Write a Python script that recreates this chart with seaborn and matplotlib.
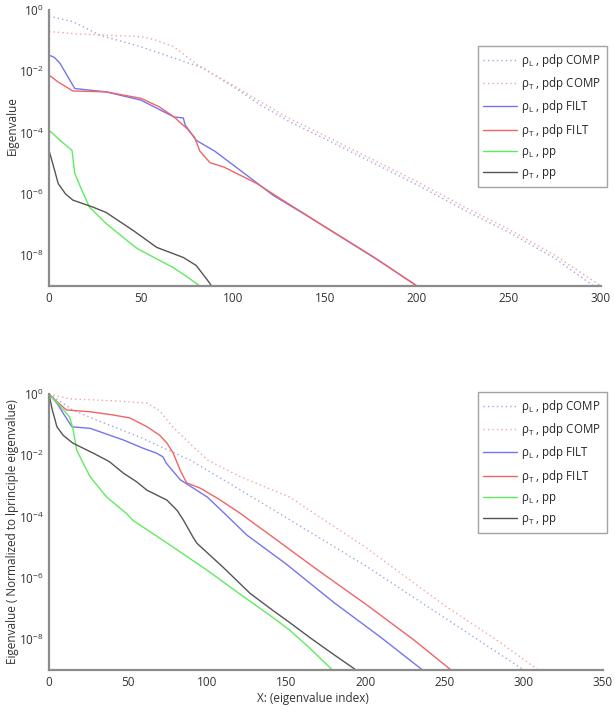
"""Eigenvalue spectra: raw (top) and normalised to the principal eigenvalue (bottom)."""

import numpy as np
import pandas as pd
import matplotlib
matplotlib.use('Agg')
import matplotlib.pyplot as plt
import seaborn as sns

# ── DATA (x = eigenvalue index, e = log10 eigenvalue) ──

LABELS = [
    r'ρ$_\mathrm{L}$ , pdp COMP',
    r'ρ$_\mathrm{T}$ , pdp COMP',
    r'ρ$_\mathrm{L}$ , pdp FILT',
    r'ρ$_\mathrm{T}$ , pdp FILT',
    r'ρ$_\mathrm{L}$ , pp',
    r'ρ$_\mathrm{T}$ , pp',
]

# top panel
top_L_comp_x = [0, 13, 28, 50, 71, 84, 100, 115, 131, 150, 175, 200, 225, 250, 275, 296]
top_L_comp_e = [-0.2, -0.38, -0.83, -1.2, -1.63, -1.9, -2.5, -3.1, -3.65, -4.2, -4.95, -5.7,
                -6.5, -7.25, -8.1, -9.0]
top_T_comp_x = [0, 15, 31, 50, 58, 68, 76, 84, 100, 115, 131, 150, 175, 200, 225, 250, 275, 300]
top_T_comp_e = [-0.7, -0.78, -0.82, -0.87, -0.98, -1.2, -1.58, -1.92, -2.45, -3.0, -3.55, -4.1,
                -4.85, -5.6, -6.4, -7.15, -8.0, -9.0]
top_L_filt_x = [0, 3, 6, 10, 14, 20, 31, 50, 68, 73, 74, 76, 80, 90, 104, 122, 140, 160, 180, 200]
top_L_filt_e = [-1.47, -1.55, -1.74, -2.15, -2.56, -2.6, -2.67, -2.94, -3.49, -3.52, -3.75,
                -3.92, -4.25, -4.6, -5.23, -6.05, -6.7, -7.45, -8.2, -9.0]
top_T_filt_x = [0, 5, 13, 31, 50, 60, 68, 75, 79, 82, 87.5, 95, 113, 127, 150, 175, 200]
top_T_filt_e = [-2.12, -2.35, -2.64, -2.67, -2.88, -3.16, -3.49, -3.87, -4.14, -4.6, -4.98,
                -5.12, -5.66, -6.2, -7.07, -8.0, -9.0]
top_L_pp_x = [0, 6, 12.5, 14, 18, 22, 31, 40, 48, 58, 67.6, 75, 82]
top_L_pp_e = [-3.92, -4.25, -4.58, -5.33, -5.9, -6.43, -6.96, -7.4, -7.78, -8.1, -8.4, -8.7, -9.0]
top_T_pp_x = [0, 2, 5, 9, 13, 24, 31, 46, 58.5, 73, 80, 86, 89]
top_T_pp_e = [-4.58, -5.0, -5.66, -6.0, -6.2, -6.43, -6.6, -7.2, -7.74, -8.07, -8.33, -8.8, -9.05]

# bottom panel (normalised)
bot_L_comp_x = [0, 15, 30, 57, 89, 120, 152, 200, 250, 300]
bot_L_comp_e = [0.0, -0.52, -0.85, -1.4, -2.15, -3.1, -4.1, -5.6, -7.3, -9.0]
bot_T_comp_x = [0, 13, 40, 62, 70, 78, 100, 121, 152, 200, 250, 285, 309]
bot_T_comp_e = [0.0, -0.16, -0.22, -0.3, -0.55, -1.07, -2.15, -2.7, -3.36, -5.0, -6.9, -8.1, -9.0]
bot_L_filt_x = [0, 5, 9, 14.5, 26, 47, 60, 68, 72, 74, 83, 100, 112, 125, 150, 180, 210, 236]
bot_L_filt_e = [0.0, -0.3, -0.63, -1.07, -1.12, -1.5, -1.78, -1.93, -2.05, -2.25, -2.8, -3.36,
                -3.95, -4.6, -5.55, -6.8, -7.95, -9.0]
bot_T_filt_x = [0, 5, 11, 26, 40, 51, 62, 70, 74.5, 78.5, 83, 87, 95.5, 108, 121, 141.5, 170,
                200, 230, 254]
bot_T_filt_e = [0.0, -0.25, -0.52, -0.58, -0.68, -0.78, -1.07, -1.35, -1.6, -1.93, -2.5, -2.9,
                -3.07, -3.45, -3.9, -4.67, -5.75, -6.85, -8.0, -9.0]
bot_L_pp_x = [0, 8, 13, 15, 17.5, 22, 26, 36.4, 49, 53, 72, 100, 120, 141.5, 152, 165, 179]
bot_L_pp_e = [0.0, -0.45, -0.75, -1.1, -1.83, -2.3, -2.7, -3.36, -3.9, -4.12, -4.77, -5.75,
              -6.5, -7.29, -7.7, -8.3, -9.0]
bot_T_pp_x = [0, 2, 5, 9, 15, 28, 38, 47, 55, 62, 74.5, 81, 85, 91, 93.5, 110, 127, 141.5, 152,
              165, 180, 194]
bot_T_pp_e = [0.0, -0.5, -1.07, -1.35, -1.6, -1.93, -2.2, -2.58, -2.85, -3.14, -3.46, -3.8,
              -4.12, -4.67, -4.87, -5.65, -6.5, -7.06, -7.45, -7.95, -8.5, -9.0]

COLORS = ['#a4a4e6', '#f0a4a4', '#7474f0', '#f06464', '#5fec5f', '#555555']
DOTTED = [True, True, False, False, False, False]

GRAY = '#8c8c8c'


# ── HELPERS ───────────────────────────────────────────────────────────────────

def draw_panel(ax, series, xmax):
    """Draw the six spectra on a log axis and style it like the original."""
    for (xs, es), label, color, dotted in zip(series, LABELS, COLORS, DOTTED):
        df = pd.DataFrame({'x': xs, 'y': 10.0 ** np.asarray(es)})
        sns.lineplot(data=df, x='x', y='y', ax=ax, color=color, lw=1.0,
                     linestyle=(0, (1, 2.2)) if dotted else '-',
                     label=label, sort=False, estimator=None)
    ax.set_yscale('log')
    ax.set_xlim(0, xmax)
    ax.set_ylim(1e-9, 1)
    ax.set_xticks(np.arange(0, xmax + 1, 50))
    ax.set_yticks([1, 1e-2, 1e-4, 1e-6, 1e-8])
    ax.yaxis.set_minor_locator(matplotlib.ticker.NullLocator())
    ax.set_xlabel('')
    for side in ['top', 'right']:
        ax.spines[side].set_visible(False)
    for side in ['left', 'bottom']:
        ax.spines[side].set_color(GRAY)
        ax.spines[side].set_linewidth(1.6)
    ax.tick_params(direction='in', length=4, width=1, color=GRAY,
                   labelsize=8.5, labelcolor='#333333', pad=4)


def add_legend(ax, fig, top_px):
    leg = ax.legend(loc='upper right', bbox_to_anchor=(607 / 615, 1 - top_px / 711),
                    bbox_transform=fig.transFigure, fontsize=8.3, frameon=True,
                    fancybox=False, edgecolor=GRAY, handlelength=2.9,
                    labelspacing=0.55, borderpad=0.5, handletextpad=0.4,
                    borderaxespad=0)
    leg.get_frame().set_linewidth(1.0)


# ── MAIN ──────────────────────────────────────────────────────────────────────

def main():
    sns.set_theme(style='white')
    plt.rcParams['font.family'] = ['Open Sans', 'DejaVu Sans']
    plt.rcParams['mathtext.fontset'] = 'custom'
    plt.rcParams['mathtext.rm'] = 'Open Sans'
    plt.rcParams['mathtext.it'] = 'Open Sans:italic'
    plt.rcParams['axes.unicode_minus'] = False

    fig = plt.figure(figsize=(6.15, 7.11), dpi=100)
    ax_top = fig.add_axes([49 / 615, 1 - 286 / 711, 552 / 615, 276 / 711])
    ax_bot = fig.add_axes([49 / 615, 1 - 670 / 711, 554 / 615, 276 / 711])

    top_series = [
        (top_L_comp_x, top_L_comp_e), (top_T_comp_x, top_T_comp_e),
        (top_L_filt_x, top_L_filt_e), (top_T_filt_x, top_T_filt_e),
        (top_L_pp_x, top_L_pp_e), (top_T_pp_x, top_T_pp_e),
    ]
    bot_series = [
        (bot_L_comp_x, bot_L_comp_e), (bot_T_comp_x, bot_T_comp_e),
        (bot_L_filt_x, bot_L_filt_e), (bot_T_filt_x, bot_T_filt_e),
        (bot_L_pp_x, bot_L_pp_e), (bot_T_pp_x, bot_T_pp_e),
    ]

    draw_panel(ax_top, top_series, 300)
    draw_panel(ax_bot, bot_series, 350)

    ax_top.set_ylabel('Eigenvalue', fontsize=8.5, color='#333333')
    ax_top.yaxis.set_label_coords(-0.055, 0.583)
    ax_bot.set_ylabel('Eigenvalue ( Normalized to lprinciple eigenvalue)',
                      fontsize=8.5, color='#333333')
    ax_bot.yaxis.set_label_coords(-0.055, 0.5)
    ax_bot.set_xlabel('X: (eigenvalue index)', fontsize=8.5, color='#333333')
    ax_bot.xaxis.set_label_coords(0.476, -0.08)

    add_legend(ax_top, fig, 46)
    add_legend(ax_bot, fig, 392)

    fig.savefig('out.png', dpi=100)


if __name__ == '__main__':
    main()
